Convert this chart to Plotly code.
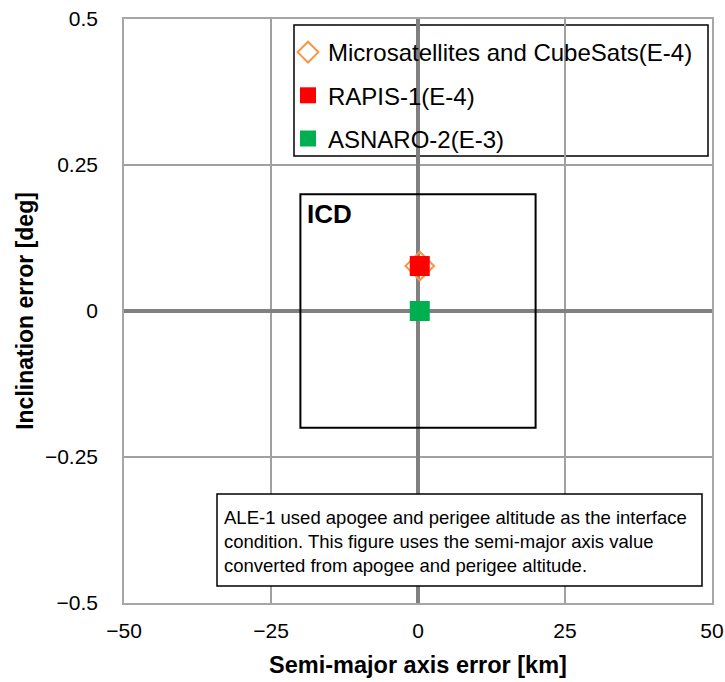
import plotly.graph_objects as go

# ---- data ----
series_names = ["Microsatellites and CubeSats(E-4)", "RAPIS-1(E-4)", "ASNARO-2(E-3)"]
sma_error = [0.3, 0.3, 0.3]          # km
inc_error = [0.077, 0.077, 0.0]      # deg
icd_x = [-20, 20]
icd_y = [-0.2, 0.2]
x_ticks = [-50, -25, 0, 25, 50]
y_ticks = [-0.5, -0.25, 0, 0.25, 0.5]
y_tick_labels = ["−0.5", "−0.25", "0", "0.25", "0.5"]
note_lines = [
    "ALE-1 used apogee and perigee altitude as the interface",
    "condition. This figure uses the semi-major axis value",
    "converted from apogee and perigee altitude.",
]

FONT = "Liberation Sans"
fig = go.Figure()

styles = [
    dict(symbol="diamond-open", size=22, color="#F79646", line=dict(width=2, color="#F79646")),
    dict(symbol="square", size=20, color="#FF0000", line=dict(width=0)),
    dict(symbol="square", size=20, color="#00B050", line=dict(width=0)),
]
for i, name in enumerate(series_names):
    fig.add_trace(go.Scatter(
        x=[sma_error[i]], y=[inc_error[i]], mode="markers", name=name,
        marker=styles[i], legendgroup=f"g{i}",
    ))

# ICD box
fig.add_shape(type="rect", xref="x", yref="y", x0=icd_x[0], x1=icd_x[1],
              y0=icd_y[0], y1=icd_y[1], line=dict(color="black", width=2),
              fillcolor="rgba(0,0,0,0)", layer="above")
fig.add_annotation(x=icd_x[0], y=icd_y[1], xref="x", yref="y", text="<b>ICD</b>",
                   showarrow=False, xanchor="left", yanchor="top", xshift=5, yshift=-3,
                   font=dict(family=FONT, size=26, color="black"))

L, T, W, H = 124, 19, 588, 584
FW, FH = 725, 682
def px(x): return (x - L) / W   # reference-pixel -> paper
def py(y): return (T + H - y) / H

fig.add_shape(type="rect", xref="paper", yref="paper", x0=px(294), x1=px(708),
              y0=py(156), y1=py(25), line=dict(color="black", width=1.5),
              fillcolor="white", layer="below")

# note box
fig.add_shape(type="rect", xref="paper", yref="paper", x0=px(217), x1=px(702),
              y0=py(586), y1=py(494), line=dict(color="black", width=1.5),
              fillcolor="white", layer="above")
for k, line in enumerate(note_lines):
    fig.add_annotation(x=px(222), y=py(517 + 24 * k), xref="paper", yref="paper",
                       text=line, showarrow=False, xanchor="left", yanchor="middle",
                       font=dict(family=FONT, size=18.5, color="black"))

fig.update_layout(
    width=FW, height=FH,
    margin=dict(l=L, r=FW - L - W, t=T, b=FH - T - H, autoexpand=False),
    paper_bgcolor="white", plot_bgcolor="white",
    font=dict(family=FONT, color="black"),
    showlegend=True,
    legend=dict(x=px(288), y=py(30), xanchor="left", yanchor="top",
                bgcolor="rgba(0,0,0,0)", borderwidth=0,
                font=dict(family=FONT, size=24, color="black"),
                tracegroupgap=9, itemwidth=30),
    xaxis=dict(range=[-50, 50], tickvals=x_ticks, ticks="", showgrid=True, automargin=False,
               gridcolor="#A0A0A0", gridwidth=1.5, zeroline=True, zerolinecolor="#808080",
               zerolinewidth=3.5, showline=True, linecolor="#A6A6A6", linewidth=1.5, mirror=True,
               tickfont=dict(family=FONT, size=21), ticklabelstandoff=8,
               ticklabeloverflow="allow",
               title=dict(text="<b>Semi-major axis error [km]</b>",
                          font=dict(family=FONT, size=23.5), standoff=16)),
    yaxis=dict(range=[-0.5, 0.5], tickvals=y_ticks, ticktext=y_tick_labels, ticks="",
               showgrid=True, gridcolor="#A0A0A0", gridwidth=1.5, zeroline=True, automargin=False,
               zerolinecolor="#808080", zerolinewidth=3.5, showline=True, linecolor="#A6A6A6",
               linewidth=1.5, mirror=True, ticklabeloverflow="allow",
               tickfont=dict(family=FONT, size=21), ticklabelstandoff=20,
               title=dict(text="<b>Inclination error [deg]</b>",
                          font=dict(family=FONT, size=23), standoff=5)),
)

fig.write_html("out.html", config={"displayModeBar": False},
               post_script="document.body.style.margin='0';document.body.style.overflow='hidden';")
